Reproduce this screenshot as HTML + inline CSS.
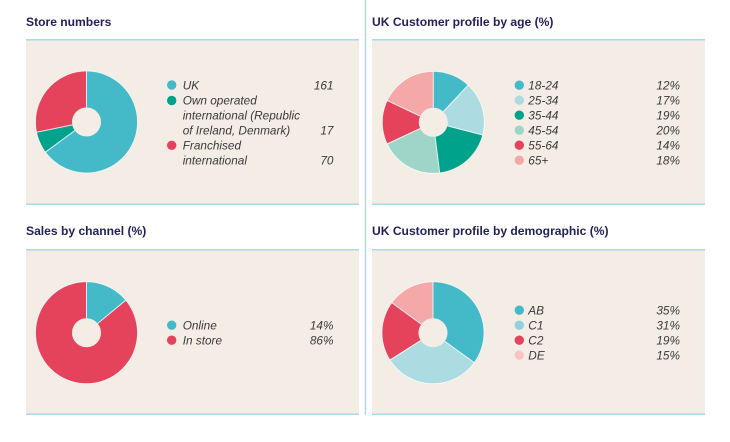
<!DOCTYPE html>
<html><head><meta charset="utf-8"><style>
html,body{margin:0;padding:0;background:#fff;}
svg{display:block;}
.t{font-family:"Liberation Sans",sans-serif;font-weight:bold;font-size:12.1px;fill:#231f58;}
.l{font-family:"Liberation Sans",sans-serif;font-style:italic;font-size:11.8px;fill:#3a3a3a;}
.v{font-family:"Liberation Sans",sans-serif;font-style:italic;font-size:11.8px;fill:#3a3a3a;text-anchor:end;}
.sep{stroke:#fff;stroke-width:1;opacity:0.8;}
</style></head><body>
<svg width="730" height="442" viewBox="0 0 730 442" xmlns="http://www.w3.org/2000/svg">
<rect width="730" height="442" fill="#fff"/>
<line x1="365.5" y1="0" x2="365.5" y2="415" stroke="#aedde4" stroke-width="1.5"/>

<!-- panels -->
<g fill="#f4ede5">
<rect x="26" y="39" width="333" height="166"/>
<rect x="372" y="39" width="333" height="166"/>
<rect x="26" y="249" width="333" height="166"/>
<rect x="372" y="249" width="333" height="166"/>
</g>
<g stroke="#a9dbe2" stroke-width="1.5">
<line x1="26" y1="39.8" x2="359" y2="39.8"/><line x1="26" y1="204.2" x2="359" y2="204.2"/>
<line x1="372" y1="39.8" x2="705" y2="39.8"/><line x1="372" y1="204.2" x2="705" y2="204.2"/>
<line x1="26" y1="249.8" x2="359" y2="249.8"/><line x1="26" y1="414.2" x2="359" y2="414.2"/>
<line x1="372" y1="249.8" x2="705" y2="249.8"/><line x1="372" y1="414.2" x2="705" y2="414.2"/>
</g>

<!-- titles -->
<text class="t" x="26" y="26">Store numbers</text>
<text class="t" x="372" y="26">UK Customer profile by age (%)</text>
<text class="t" x="26" y="235">Sales by channel (%)</text>
<text class="t" x="372" y="235">UK Customer profile by demographic (%)</text>

<!-- Store numbers donut -->
<g transform="translate(86.5,122) rotate(-90)" fill="none" stroke-width="36.5">
<circle r="32.75" stroke="#44bac9" stroke-dasharray="133.58 205.77" stroke-dashoffset="0"/>
<circle r="32.75" stroke="#00a28c" stroke-dasharray="14.105 205.77" stroke-dashoffset="-133.58"/>
<circle r="32.75" stroke="#e5435c" stroke-dasharray="58.08 205.77" stroke-dashoffset="-147.69"/>
</g>
<g transform="translate(86.5,122)">
<circle r="51" fill="none" stroke="#fff" stroke-width="0.8" opacity="0.8"/>
<line class="sep" x1="0" y1="-14.5" x2="0" y2="-51"/>
<line class="sep" x1="0" y1="-14.5" x2="0" y2="-51" transform="rotate(233.7)"/>
<line class="sep" x1="0" y1="-14.5" x2="0" y2="-51" transform="rotate(258.4)"/>
</g>
<circle cx="171.7" cy="85" r="4.7" fill="#44bac9"/>
<circle cx="171.7" cy="100.5" r="4.7" fill="#00a28c"/>
<circle cx="171.7" cy="145.3" r="4.7" fill="#e5435c"/>
<text class="l" x="182.7" y="89.5">UK</text>
<text class="l" x="182.7" y="104.5">Own operated</text>
<text class="l" x="182.7" y="119.5">international (Republic</text>
<text class="l" x="182.7" y="134.5">of Ireland, Denmark)</text>
<text class="l" x="182.7" y="149.5">Franchised</text>
<text class="l" x="182.7" y="164.5">international</text>
<text class="v" x="333.5" y="89.5">161</text>
<text class="v" x="333.5" y="134.5">17</text>
<text class="v" x="333.5" y="164.5">70</text>

<!-- Age donut -->
<g transform="translate(433.3,122.3) rotate(-90)" fill="none" stroke-width="36.5">
<circle r="32.75" stroke="#44bac9" stroke-dasharray="24.69 205.77" stroke-dashoffset="0"/>
<circle r="32.75" stroke="#acdbe1" stroke-dasharray="34.98 205.77" stroke-dashoffset="-24.69"/>
<circle r="32.75" stroke="#00a28c" stroke-dasharray="39.10 205.77" stroke-dashoffset="-59.67"/>
<circle r="32.75" stroke="#9fd5c8" stroke-dasharray="41.15 205.77" stroke-dashoffset="-98.77"/>
<circle r="32.75" stroke="#e5435c" stroke-dasharray="28.81 205.77" stroke-dashoffset="-139.92"/>
<circle r="32.75" stroke="#f4a9a8" stroke-dasharray="37.04 205.77" stroke-dashoffset="-168.73"/>
</g>
<g transform="translate(433.3,122.3)">
<circle r="51" fill="none" stroke="#fff" stroke-width="0.8" opacity="0.8"/>
<line class="sep" x1="0" y1="-14.5" x2="0" y2="-51"/>
<line class="sep" x1="0" y1="-14.5" x2="0" y2="-51" transform="rotate(43.2)"/>
<line class="sep" x1="0" y1="-14.5" x2="0" y2="-51" transform="rotate(104.4)"/>
<line class="sep" x1="0" y1="-14.5" x2="0" y2="-51" transform="rotate(172.8)"/>
<line class="sep" x1="0" y1="-14.5" x2="0" y2="-51" transform="rotate(244.8)"/>
<line class="sep" x1="0" y1="-14.5" x2="0" y2="-51" transform="rotate(295.2)"/>
</g>
<circle cx="519.3" cy="85.2" r="4.7" fill="#44bac9"/>
<circle cx="519.3" cy="100.2" r="4.7" fill="#acdbe1"/>
<circle cx="519.3" cy="115.2" r="4.7" fill="#00a28c"/>
<circle cx="519.3" cy="130.2" r="4.7" fill="#9fd5c8"/>
<circle cx="519.3" cy="145.2" r="4.7" fill="#e5435c"/>
<circle cx="519.3" cy="160.2" r="4.7" fill="#f4a9a8"/>
<text class="l" x="528.3" y="89.5">18-24</text>
<text class="l" x="528.3" y="104.5">25-34</text>
<text class="l" x="528.3" y="119.5">35-44</text>
<text class="l" x="528.3" y="134.5">45-54</text>
<text class="l" x="528.3" y="149.5">55-64</text>
<text class="l" x="528.3" y="164.5">65+</text>
<text class="v" x="680" y="89.5">12%</text>
<text class="v" x="680" y="104.5">17%</text>
<text class="v" x="680" y="119.5">19%</text>
<text class="v" x="680" y="134.5">20%</text>
<text class="v" x="680" y="149.5">14%</text>
<text class="v" x="680" y="164.5">18%</text>

<!-- Sales donut -->
<g transform="translate(86.5,332.7) rotate(-90)" fill="none" stroke-width="36.5">
<circle r="32.75" stroke="#44bac9" stroke-dasharray="28.81 205.77" stroke-dashoffset="0"/>
<circle r="32.75" stroke="#e5435c" stroke-dasharray="176.96 205.77" stroke-dashoffset="-28.81"/>
</g>
<g transform="translate(86.5,332.7)">
<circle r="51" fill="none" stroke="#fff" stroke-width="0.8" opacity="0.8"/>
<line class="sep" x1="0" y1="-14.5" x2="0" y2="-51"/>
<line class="sep" x1="0" y1="-14.5" x2="0" y2="-51" transform="rotate(50.4)"/>
</g>
<circle cx="171.7" cy="325.2" r="4.7" fill="#44bac9"/>
<circle cx="171.7" cy="340.2" r="4.7" fill="#e5435c"/>
<text class="l" x="182.7" y="329.5">Online</text>
<text class="l" x="182.7" y="344.5">In store</text>
<text class="v" x="333.5" y="329.5">14%</text>
<text class="v" x="333.5" y="344.5">86%</text>

<!-- Demographic donut -->
<g transform="translate(433,332.7) rotate(-90)" fill="none" stroke-width="36.5">
<circle r="32.75" stroke="#44bac9" stroke-dasharray="72.02 205.77" stroke-dashoffset="0"/>
<circle r="32.75" stroke="#acdbe1" stroke-dasharray="63.79 205.77" stroke-dashoffset="-72.02"/>
<circle r="32.75" stroke="#e5435c" stroke-dasharray="39.10 205.77" stroke-dashoffset="-135.81"/>
<circle r="32.75" stroke="#f4a9a8" stroke-dasharray="30.87 205.77" stroke-dashoffset="-174.91"/>
</g>
<g transform="translate(433,332.7)">
<circle r="51" fill="none" stroke="#fff" stroke-width="0.8" opacity="0.8"/>
<line class="sep" x1="0" y1="-14.5" x2="0" y2="-51"/>
<line class="sep" x1="0" y1="-14.5" x2="0" y2="-51" transform="rotate(126)"/>
<line class="sep" x1="0" y1="-14.5" x2="0" y2="-51" transform="rotate(237.6)"/>
<line class="sep" x1="0" y1="-14.5" x2="0" y2="-51" transform="rotate(306)"/>
</g>
<circle cx="519.3" cy="310.2" r="4.7" fill="#44bac9"/>
<circle cx="519.3" cy="325.2" r="4.7" fill="#93d0d9"/>
<circle cx="519.3" cy="340.2" r="4.7" fill="#e5435c"/>
<circle cx="519.3" cy="355.2" r="4.7" fill="#f7c4c3"/>
<text class="l" x="528.3" y="314.5">AB</text>
<text class="l" x="528.3" y="329.5">C1</text>
<text class="l" x="528.3" y="344.5">C2</text>
<text class="l" x="528.3" y="359.5">DE</text>
<text class="v" x="680" y="314.5">35%</text>
<text class="v" x="680" y="329.5">31%</text>
<text class="v" x="680" y="344.5">19%</text>
<text class="v" x="680" y="359.5">15%</text>
</svg>
</body></html>
